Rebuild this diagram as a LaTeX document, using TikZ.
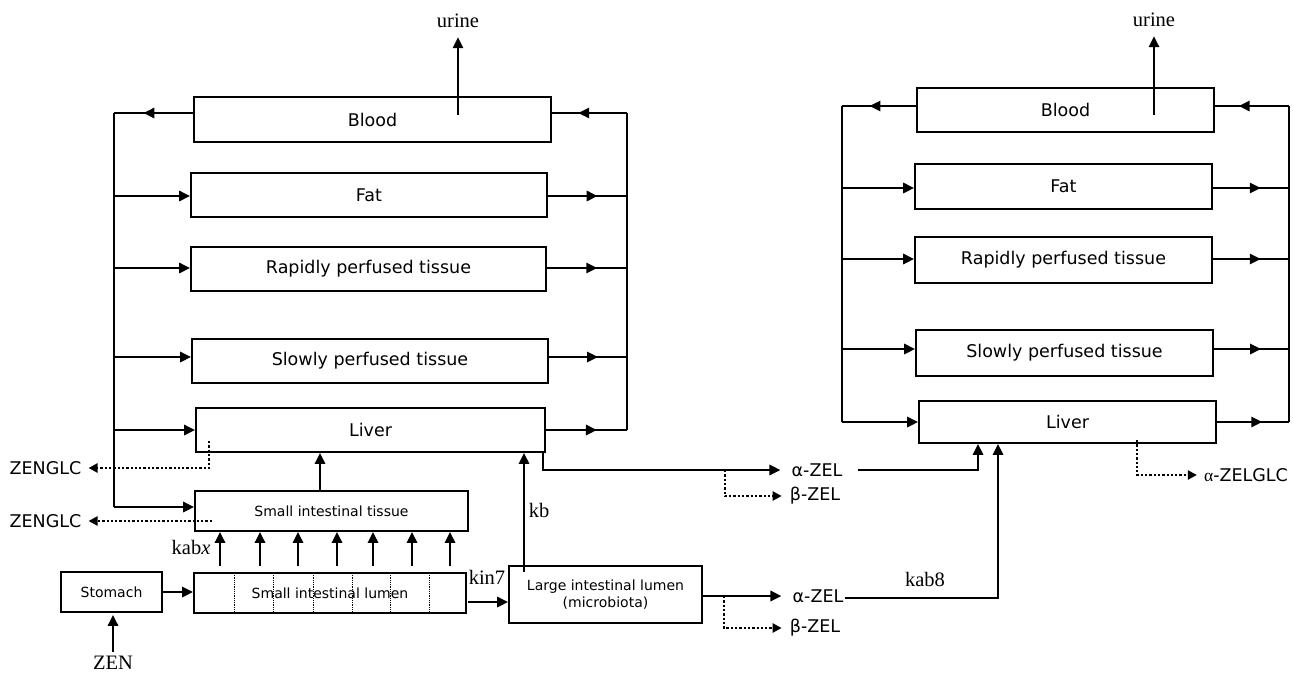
\documentclass[tikz,border=0pt]{standalone}
\usepackage{fontspec}
\setmainfont{DejaVu Sans}
\newfontfamily\tnr{Liberation Serif}
\usetikzlibrary{arrows.meta,decorations.markings,calc}
\begin{document}
\begin{tikzpicture}[x=1pt,y=-1pt,
  box/.style={draw,line width=1.6pt,inner sep=0pt,font=\fontsize{17.5}{20}\selectfont},
  sbox/.style={box,font=\fontsize{14}{17}\selectfont,align=center},
  ln/.style={line width=2.6pt},
  arr/.style={ln,-{Triangle[length=11pt,width=10pt]}},
  midarr/.style={ln,postaction={decorate},decoration={markings,mark=at position #1 with {\arrow{Triangle[length=11pt,width=10pt]}}}},
  dotarr/.style={line width=2.3pt,dotted,-{Triangle[length=9pt,width=9pt]}},
  divline/.style={line width=0.8pt,densely dotted},
  lab/.style={font=\fontsize{17.5}{20}\selectfont,inner sep=0pt},
  ser/.style={font=\tnr\fontsize{20.5}{24}\selectfont,inner sep=0pt},
]
\useasboundingbox (0,0) rectangle (1293,675);

% ---------------- left model ----------------
\node[box,minimum width=357,minimum height=45] (bloodL) at (372.5,119.5) {Blood};
\node[box,minimum width=356,minimum height=44] (fatL) at (369,195) {Fat};
\node[box,minimum width=355,minimum height=44] (rapidL) at (368.5,269) {Rapidly perfused tissue};
\node[box,minimum width=356,minimum height=44] (slowL) at (370,361) {Slowly perfused tissue};
\node[box,minimum width=349,minimum height=44] (liverL) at (370.5,430) {Liver};
\node[sbox,minimum width=273,minimum height=40] (tissue) at (331.5,511) {Small intestinal tissue};
\node[sbox,minimum width=272,minimum height=40] (lumen) at (330,593) {Small intestinal lumen};
\node[sbox,minimum width=101,minimum height=40] (stomach) at (111.5,592) {Stomach};
\node[sbox,minimum width=193,minimum height=57] (large) at (605.5,594.5) {Large intestinal lumen\\(microbiota)};

\foreach \x in {234,273,313,352,390,429}
  \draw[divline] (\x,573) -- (\x,613);

\node[ser] (urineL) at (458,21) {urine};
\node[ser] (zen) at (113,663) {ZEN};
\node[ser] (kabx) at (191,547) {kab\textit{x}};
\node[ser] (kin7) at (487,577) {kin7};
\node[ser] (kb) at (539,510) {kb};
\node[lab] (zenglc1) at (45.5,468) {ZENGLC};
\node[lab] (zenglc2) at (45.5,521) {ZENGLC};
\node[lab] (azel1) at (817,470) {α-ZEL};
\node[lab] (bzel1) at (815,496) {β-ZEL};
\node[lab] (azel2) at (818,596) {α-ZEL};
\node[lab] (bzel2) at (815,628) {β-ZEL};
\node[ser] (kab8) at (925,579) {kab8};

% buses
\coordinate (LbT) at (114,113);
\coordinate (LbB) at (114,507);
\coordinate (RbT) at (627,113);
\coordinate (RbB) at (627,430);
\draw[ln] (LbT) -- (LbB);
\draw[ln] (RbT) -- (RbB);

% blood row
\draw[midarr=0.63] (bloodL.west |- LbT) -- (LbT);
\draw[midarr=0.65] (RbT) -- (bloodL.east |- RbT);
% other rows
\foreach \nd/\yy in {fatL/196,rapidL/268,slowL/357,liverL/430}{
  \coordinate (rl) at (114,\yy);
  \coordinate (rr) at (627,\yy);
  \draw[arr] (rl) -- (\nd.west |- rl);
  \draw[midarr=0.63] (\nd.east |- rr) -- (rr);
}
\coordinate (tl) at (114,507);
\draw[arr] (tl) -- (tissue.west |- tl);

% urine
\coordinate (u0) at (458,115);
\draw[arr,shorten >=9pt] (u0) -- (u0 |- urineL.south);

% tissue -> liver
\coordinate (c320) at (320,0);
\draw[arr] (tissue.north -| c320) -- (liverL.south -| c320);

% kabx arrows
\foreach \x in {220,260,298,337,373,412,450}{
  \coordinate (kk) at (\x,0);
  \draw[arr,shorten <=6pt] (lumen.north -| kk) -- (tissue.south -| kk);
}

% stomach -> lumen
\draw[arr] (stomach.east) -- (stomach.east -| lumen.west);
% ZEN -> stomach
\draw[arr,shorten <=4pt,shorten >=2pt] (zen.north) -- (stomach.south -| zen.north);
% kin7
\coordinate (kin) at (468,602);
\draw[arr] (kin) -- (kin -| large.west);
% kb
\coordinate (kb0) at (524,572);
\draw[arr] (kb0) -- (kb0 |- liverL.south);

% ZENGLC
\coordinate (zg1) at (209,441);
\draw[dotarr,shorten >=7pt] (zg1) |- (zenglc1.east);
\coordinate (zg2) at (212,521);
\draw[dotarr,shorten >=7pt] (zg2) -- (zenglc2.east);

% liver -> alpha/beta ZEL
\coordinate (lvo) at (543,452);
\draw[arr,shorten >=11pt] (lvo) |- (azel1.west);
\coordinate (bz1) at (725,470);
\draw[dotarr,shorten >=8pt] (bz1) |- (bzel1.west);

% large -> alpha/beta ZEL
\draw[arr,shorten >=11pt] (large.east |- azel2.west) -- (azel2.west);
\coordinate (bz2) at (724,596);
\draw[dotarr,shorten >=8pt] (bz2) |- (bzel2.west);

% ---------------- right model ----------------
\node[box,minimum width=297,minimum height=44] (bloodR) at (1065.5,110) {Blood};
\node[box,minimum width=297,minimum height=45] (fatR) at (1063.5,186.5) {Fat};
\node[box,minimum width=297,minimum height=46] (rapidR) at (1063.5,260) {Rapidly perfused tissue};
\node[box,minimum width=297,minimum height=46] (slowR) at (1064.5,353) {Slowly perfused tissue};
\node[box,minimum width=297,minimum height=42] (liverR) at (1067.5,422) {Liver};
\node[ser] (urineR) at (1154,20) {urine};
\node[lab] (azelglc) at (1246,475) {{\tnr α}-ZELGLC};

\coordinate (LbT2) at (842,106);
\coordinate (LbB2) at (842,422);
\coordinate (RbT2) at (1289,106);
\coordinate (RbB2) at (1289,422);
\draw[ln] (LbT2) -- (LbB2);
\draw[ln] (RbT2) -- (RbB2);

\draw[midarr=0.63] (bloodR.west |- LbT2) -- (LbT2);
\draw[midarr=0.68] (RbT2) -- (bloodR.east |- RbT2);
\foreach \nd/\yy in {fatR/188,rapidR/259,slowR/349,liverR/422}{
  \coordinate (rl) at (842,\yy);
  \coordinate (rr) at (1289,\yy);
  \draw[arr] (rl) -- (\nd.west |- rl);
  \draw[midarr=0.63] (\nd.east |- rr) -- (rr);
}

\coordinate (u1) at (1154,115);
\draw[arr,shorten >=9pt] (u1) -- (u1 |- urineR.south);

% alpha-ZEL -> liver R
\coordinate (c978) at (978,0);
\coordinate (c998) at (998,0);
\draw[arr,shorten <=15pt] (azel1.east) -| (liverR.south -| c978);
\draw[arr,shorten <=1pt] (azel2.east |- 0,598) -| (liverR.south -| c998);

% alpha-ZELGLC
\coordinate (ag) at (1137,440);
\draw[dotarr,shorten >=7pt] (ag) |- (azelglc.west);
\end{tikzpicture}
\end{document}
